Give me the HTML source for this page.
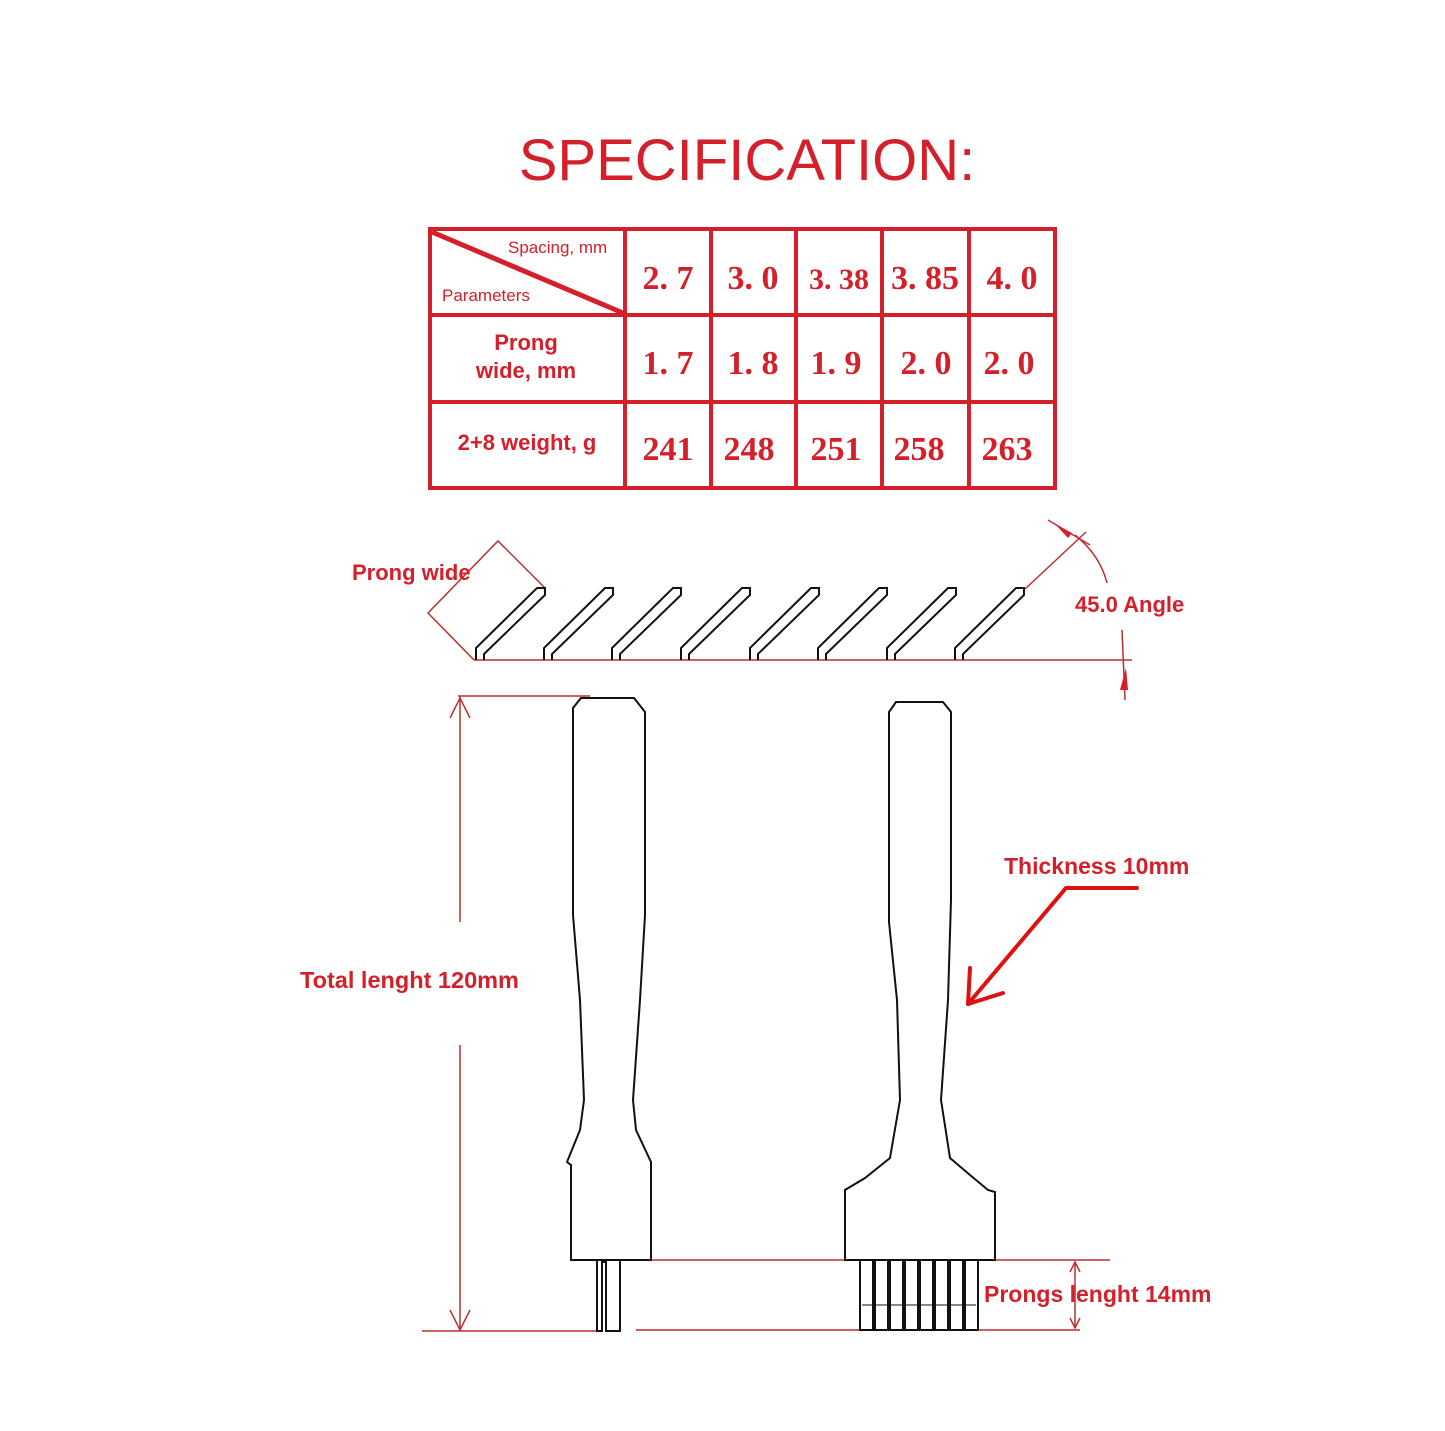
<!DOCTYPE html>
<html><head><meta charset="utf-8"><style>
html,body{margin:0;padding:0;background:#fff;}
svg{display:block}
.r{fill:#d4202a;font-family:"Liberation Sans",sans-serif;font-weight:bold}
.n{fill:#d4202a;font-family:"Liberation Serif",serif;font-weight:bold;font-size:34px;text-anchor:middle}
</style></head><body>
<svg width="1445" height="1431" viewBox="0 0 1445 1431" xmlns="http://www.w3.org/2000/svg">
<rect width="1445" height="1431" fill="#fff"/>
<text x="747" y="180" text-anchor="middle" style="fill:#d4202a;font-family:'Liberation Sans',sans-serif;font-size:58px">SPECIFICATION:</text>
<!-- table -->
<g stroke="#d4202a" stroke-width="4" fill="none">
<rect x="430" y="229" width="625" height="259"/>
<line x1="430" y1="315" x2="1055" y2="315"/>
<line x1="430" y1="402" x2="1055" y2="402"/>
<line x1="625" y1="229" x2="625" y2="488"/>
<line x1="711" y1="229" x2="711" y2="488"/>
<line x1="796" y1="229" x2="796" y2="488"/>
<line x1="882" y1="229" x2="882" y2="488"/>
<line x1="969" y1="229" x2="969" y2="488"/>
<line x1="432" y1="232" x2="623" y2="313" stroke-width="5"/>
</g>
<text x="508" y="253" style="fill:#d4202a;font-family:'Liberation Sans',sans-serif;font-size:17px">Spacing, mm</text>
<text x="442" y="301" style="fill:#d4202a;font-family:'Liberation Sans',sans-serif;font-size:17px">Parameters</text>
<text x="526" y="350" class="r" font-size="22" text-anchor="middle">Prong</text>
<text x="526" y="378" class="r" font-size="22" text-anchor="middle">wide, mm</text>
<text x="527" y="450" class="r" font-size="22" text-anchor="middle">2+8 weight, g</text>
<g class="n">
<text x="668" y="289">2. 7</text><text x="753" y="289">3. 0</text><text x="839" y="289" font-size="30">3. 38</text><text x="925" y="289">3. 85</text><text x="1012" y="289">4. 0</text>
<text x="668" y="374">1. 7</text><text x="753" y="374">1. 8</text><text x="836" y="374">1. 9</text><text x="926" y="374">2. 0</text><text x="1009" y="374">2. 0</text>
<text x="668" y="460">241</text><text x="749" y="460">248</text><text x="836" y="460">251</text><text x="919" y="460">258</text><text x="1007" y="460">263</text>
</g>
<!-- angled prongs -->
<g stroke="#b83030" stroke-width="1.5" fill="none">
<line x1="474" y1="660" x2="1132" y2="660"/>
<polyline points="474,660 428,613 498,541 545,588"/>
<line x1="1025" y1="589" x2="1086" y2="532"/>
<line x1="1048" y1="520" x2="1090" y2="545"/>
<path d="M1075,535 Q1100,555 1107,583"/>
<line x1="1122" y1="630" x2="1125" y2="700"/>
</g>
<polygon points="1055,524 1072,533 1068,538" fill="#d4202a"/>
<polygon points="1120,690 1128,690 1126,668" fill="#d4202a"/>
<g stroke="#111" stroke-width="2" fill="none">
<path d="M476,660 V648 L537,588 H545 V595 L484,654 V660"/>
<path d="M544,660 V648 L605,588 H613 V595 L552,654 V660"/>
<path d="M612,660 V648 L673,588 H681 V595 L620,654 V660"/>
<path d="M681,660 V648 L742,588 H750 V595 L689,654 V660"/>
<path d="M750,660 V648 L811,588 H819 V595 L758,654 V660"/>
<path d="M818,660 V648 L879,588 H887 V595 L826,654 V660"/>
<path d="M887,660 V648 L948,588 H956 V595 L895,654 V660"/>
<path d="M955,660 V648 L1016,588 H1024 V595 L963,654 V660"/>
</g>
<text x="352" y="580" class="r" font-size="22">Prong wide</text>
<text x="1075" y="612" class="r" font-size="22">45.0 Angle</text>
<!-- dimension lines -->
<g stroke="#b83030" stroke-width="1.5" fill="none">
<line x1="458" y1="696" x2="590" y2="696"/>
<line x1="460" y1="696" x2="460" y2="922"/>
<line x1="460" y1="1045" x2="460" y2="1331"/>
<polyline points="450,718 460,698 470,718"/>
<polyline points="450,1310 460,1330 470,1310"/>
<line x1="422" y1="1331" x2="598" y2="1331"/>
<line x1="636" y1="1330" x2="1080" y2="1330"/>
<line x1="650" y1="1260" x2="1110" y2="1260"/>
<line x1="1075" y1="1262" x2="1075" y2="1328"/>
<polyline points="1070,1272 1075,1262 1080,1272"/>
<polyline points="1070,1318 1075,1328 1080,1318"/>
</g>
<text x="300" y="988" class="r" font-size="23.5">Total lenght 120mm</text>
<text x="984" y="1302" class="r" font-size="23">Prongs lenght 14mm</text>
<text x="1004" y="874" class="r" font-size="23">Thickness 10mm</text>
<g stroke="#e01010" stroke-width="4" fill="none" stroke-linecap="round">
<polyline points="1137,888 1066,888 968,1004"/>
<line x1="968" y1="1004" x2="970" y2="968"/>
<line x1="968" y1="1004" x2="1003" y2="993"/>
</g>
<!-- tools -->
<g stroke="#111" stroke-width="2" fill="none">
<path d="M571,1260 V1165 L567,1162 L580,1130 L584,1100 L580,1000 L573,915 V708 L581,698 H634 L645,712 V915 L640,1000 L633,1100 L636,1130 L651,1162 V1260 Z"/>
<path d="M597,1260 V1331 H602 V1262 H606 V1331 H620 V1260"/>
<path d="M845,1260 V1190 L865,1178 L890,1158 L900,1100 L897,1000 L889,922 V712 L896,702 H943 L951,712 V900 L948,1000 L941,1100 L950,1158 L970,1175 L988,1190 L995,1192 V1260 Z"/>
<path d="M860,1260 V1330 H978 V1260"/>
<path d="M873,1260 V1330 M875,1260 V1330 M888,1260 V1330 M890,1260 V1330 M903,1260 V1330 M905,1260 V1330 M918,1260 V1330 M920,1260 V1330 M933,1260 V1330 M935,1260 V1330 M948,1260 V1330 M950,1260 V1330 M963,1260 V1330 M965,1260 V1330"/>
<line x1="862" y1="1305" x2="976" y2="1305" stroke-width="1"/>
</g>
</svg>
</body></html>
